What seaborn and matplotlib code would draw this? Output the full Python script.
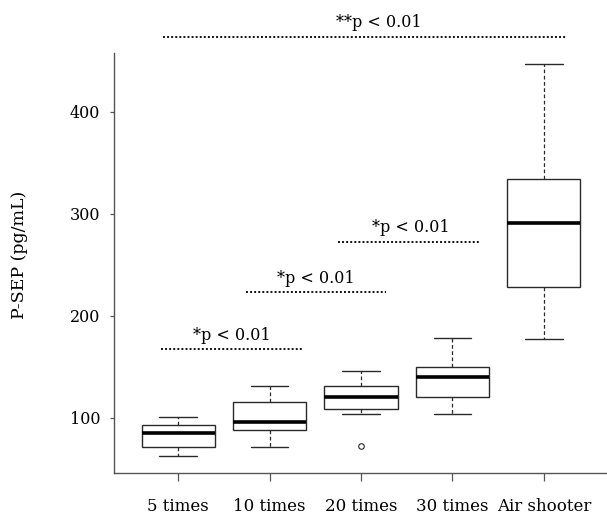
import pandas as pd
import seaborn as sns
import matplotlib.pyplot as plt

# Groups and values (min, q1, median, q3, max)
groups = ['5 times', '10 times', '20 times', '30 times', 'Air shooter']
g5 = [61.8, 71.3, 85.3, 92.8, 100.4]
g10 = [71.0, 87.6, 95.5, 115.4, 130.8]
g20 = [72.5, 103.0, 108.2, 108.2, 120.6, 131.4, 131.4, 145.8, 145.8]  # 72.5 is the outlier
g30 = [103.0, 120.6, 139.9, 150.0, 178.4]
g_air = [176.9, 227.8, 290.6, 334.0, 447.0]

# Significance labels
sig_labels = ['*p < 0.01', '*p < 0.01', '*p < 0.01', '**p < 0.01']
sig_y = [167.0, 223.0, 272.5, 473.5]
sig_x0 = [-0.19, 0.74, 1.75, -0.17]
sig_x1 = [1.35, 2.27, 3.29, 4.25]
sig_tx = [0.585, 1.51, 2.54, 2.19]

values = [g5, g10, g20, g30, g_air]
df = pd.DataFrame({
    'group': [g for g, v in zip(groups, values) for _ in v],
    'value': [x for v in values for x in v],
})

sns.set_style('white')
plt.rcParams['font.family'] = ['DejaVu Serif']
plt.rcParams['font.size'] = 11.5
plt.rcParams['text.color'] = 'black'
plt.rcParams['axes.labelcolor'] = 'black'
plt.rcParams['xtick.labelcolor'] = 'black'
plt.rcParams['ytick.labelcolor'] = 'black'

fig = plt.figure(figsize=(6.07, 5.21), dpi=100)
ax = fig.add_axes([0.188, 0.092, 0.812, 0.806])

edge = '#2a2a2a'
sns.boxplot(data=df, x='group', y='value', order=groups, ax=ax, width=0.8,
            color='white', linecolor=edge, linewidth=1.0,
            medianprops=dict(color='black', linewidth=2.6),
            whiskerprops=dict(linestyle=(0, (3, 2)), linewidth=0.9),
            capprops=dict(linewidth=1.0),
            flierprops=dict(marker='o', markersize=4, markerfacecolor='white',
                            markeredgecolor=edge, markeredgewidth=0.8),
            capwidths=0.41)

# significance brackets
for lab, y, x0, x1, tx in zip(sig_labels, sig_y, sig_x0, sig_x1, sig_tx):
    ax.plot([x0, x1], [y, y], color='#111111', linewidth=1.4,
            linestyle=(0, (1, 1.1)), clip_on=False)
    ax.annotate(lab, xy=(tx, y), xytext=(0, 4), textcoords='offset points',
                ha='center', va='bottom', fontsize=11.5, annotation_clip=False)

ax.set_xlim(-0.7, 4.69)
ax.set_ylim(45.5, 457.5)
ax.set_yticks([100, 200, 300, 400])
ax.set_xlabel('')
ax.set_ylabel('P-SEP (pg/mL)', fontsize=12.5)
ax.yaxis.set_label_coords(-0.175, 0.52)

for s in ['top', 'right']:
    ax.spines[s].set_visible(False)
for s in ['left', 'bottom']:
    ax.spines[s].set_color('#555555')
    ax.spines[s].set_linewidth(1.0)

ax.tick_params(axis='x', direction='out', length=6, width=0.9, color='#555555',
               pad=12, bottom=True, labelsize=12)
ax.tick_params(axis='y', direction='out', length=3, width=0.9, color='#555555',
               pad=7, left=True, labelsize=11.5)

plt.savefig('out.png', dpi=100)
